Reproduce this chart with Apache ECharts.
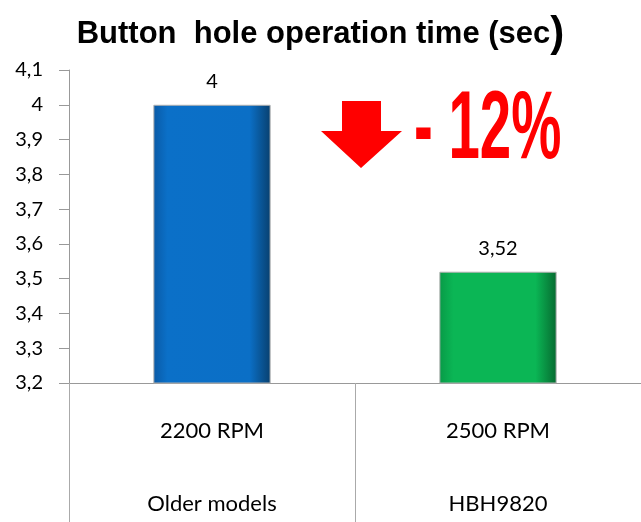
<!DOCTYPE html>
<html>
  <head>
    <meta charset="utf-8" />
    <title>ECharts</title>
    <script src="https://cdn.jsdelivr.net/npm/echarts@6/dist/echarts.min.js"></script>
  </head>
  <body style="margin:0">
    <div id="main" style="width: 641px;height:522px;"></div>
    <script type="text/javascript">
      // data
      var speeds = ['2200 RPM', '2500 RPM'];
      var models = ['Older models', 'HBH9820'];
      var times = [4, 3.52];
      var barColors = [
        ['#0a5aa6', '#0b70c8', '#0b6fc6', '#08406f'],
        ['#089a47', '#0bb655', '#0bb655', '#066a30']
      ];

      function comma(v) {
        return String(+(+v).toFixed(2)).replace('.', ',');
      }

      var myChart = echarts.init(document.getElementById('main'));

      var option = {
        backgroundColor: '#fff',
        title: {
          left: 'center',
          top: 8,
          text: '{a|Button  hole operation time (sec}{b|)}',
          textStyle: {
            rich: {
              a: { fontFamily: 'Liberation Sans', fontWeight: 'bold', fontSize: 31, color: '#000' },
              b: { fontFamily: 'Liberation Sans', fontSize: 42, color: '#000' }
            }
          }
        },
        grid: { left: 69, right: -3, top: 70, bottom: 139 },
        xAxis: [{
          type: 'category',
          data: speeds,
          axisLine: { lineStyle: { color: '#999' } },
          axisTick: { show: true, interval: 0, length: 140, lineStyle: { color: '#aaa' } },
          axisLabel: { margin: 37, fontFamily: 'Lato', fontSize: 22, color: '#000' }
        }, {
          type: 'category',
          position: 'bottom',
          data: models,
          axisLine: { show: false },
          axisTick: { show: false },
          axisLabel: { margin: 110, fontFamily: 'Lato', fontSize: 22, color: '#000' }
        }],
        yAxis: {
          type: 'value',
          min: 3.2,
          max: 4.1,
          interval: 0.1,
          splitLine: { show: false },
          axisLine: { show: true, lineStyle: { color: '#999' } },
          axisTick: { show: true, length: 10, lineStyle: { color: '#999' } },
          axisLabel: {
            margin: 26, fontFamily: 'Lato', fontSize: 20, color: '#000',
            formatter: function (v) { return comma(v); }
          }
        },
        series: [{
          type: 'bar',
          xAxisIndex: 0,
          barWidth: '41%',
          data: times.map(function (v, i) {
            var c = barColors[i];
            return {
              value: v,
              itemStyle: {
                borderColor: '#b0b0b0',
                borderWidth: 1,
                color: new echarts.graphic.LinearGradient(0, 0, 1, 0, [
                  { offset: 0, color: c[0] },
                  { offset: 0.12, color: c[1] },
                  { offset: 0.82, color: c[2] },
                  { offset: 1, color: c[3] }
                ])
              }
            };
          }),
          label: {
            show: true,
            position: 'top',
            distance: 13,
            fontFamily: 'Lato',
            fontSize: 20,
            color: '#000',
            formatter: function (p) { return comma(p.value); }
          }
        }],
        graphic: [{
          type: 'polygon',
          shape: { points: [[342, 101], [381, 101], [381, 131], [402, 131], [361, 168], [321, 131], [342, 131]] },
          style: { fill: '#ff0000' }
        }, {
          type: 'text',
          x: 414,
          y: 84,
          scaleX: 0.94,
          scaleY: 1.6,
          style: {
            text: '- 12%',
            fontFamily: 'Liberation Sans',
            fontWeight: 'bold',
            fontSize: 60,
            fill: '#ff0000',
            shadowColor: 'rgba(0,0,0,0.45)',
            shadowBlur: 4,
            shadowOffsetX: 2,
            shadowOffsetY: 2
          }
        }]
      };

      myChart.setOption(option);
    </script>
  </body>
</html>
